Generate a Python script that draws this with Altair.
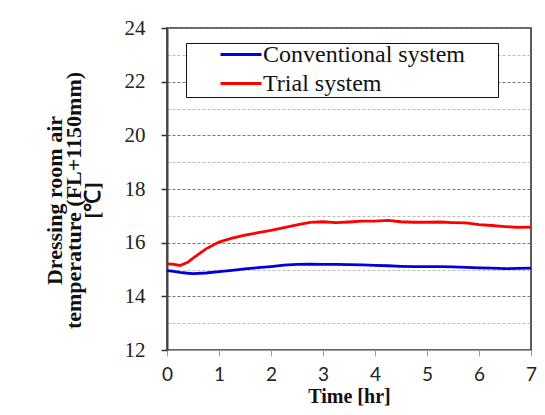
import altair as alt
import pandas as pd

# ---- data ----
time_hr = [0, 0.1, 0.25, 0.4, 0.5, 0.75, 1.0, 1.25, 1.5, 1.75, 2.0, 2.25, 2.5, 2.75,
           3.0, 3.25, 3.5, 3.75, 4.0, 4.25, 4.5, 4.75, 5.0, 5.25, 5.5, 5.75, 6.0,
           6.25, 6.5, 6.75, 7.0]
conventional = [14.96, 14.94, 14.89, 14.86, 14.85, 14.87, 14.92, 14.97, 15.02, 15.07,
                15.11, 15.16, 15.19, 15.20, 15.19, 15.19, 15.18, 15.17, 15.15, 15.14,
                15.12, 15.11, 15.11, 15.11, 15.10, 15.08, 15.06, 15.05, 15.03, 15.04,
                15.05]
trial = [15.21, 15.20, 15.15, 15.27, 15.42, 15.77, 16.02, 16.17, 16.28, 16.37,
         16.46, 16.56, 16.66, 16.76, 16.78, 16.75, 16.77, 16.80, 16.80, 16.83,
         16.78, 16.76, 16.76, 16.77, 16.75, 16.74, 16.67, 16.64, 16.60, 16.57,
         16.58]
series_names = ["Conventional system", "Trial system"]
series_colors = ["#0000dd", "#ff0000"]
x_ticks = [0, 1, 2, 3, 4, 5, 6, 7]
y_grid = list(range(12, 25))
y_title = ["Dressing room  air", "temperature (FL+1150mm)", "[\u2103]"]
x_title = "Time [hr]"

n = len(time_hr)
df = pd.DataFrame({
    "time": time_hr * 2,
    "temp": conventional + trial,
    "system": [series_names[0]] * n + [series_names[1]] * n,
})

serif = "Times New Roman, Liberation Serif, serif"
even = "datum.value % 2 == 0"

chart = alt.Chart(df).mark_line(strokeWidth=2.8).encode(
    x=alt.X("time:Q",
            scale=alt.Scale(domain=[0, 7], nice=False),
            axis=alt.Axis(values=x_ticks, title=x_title, grid=False,
                          domainColor="#999999", tickColor="#999999", tickSize=6,
                          labelFont="Lato", labelFontSize=19, labelColor="#222222",
                          labelPadding=9, labelFlush=False,
                          titleFont=serif, titleFontSize=20, titleFontWeight="bold",
                          titleColor="#111111", titleBaseline="alphabetic",
                          titleAlign="center", titleX=182, titleY=52)),
    y=alt.Y("temp:Q",
            scale=alt.Scale(domain=[12, 24], nice=False, zero=False),
            axis=alt.Axis(values=y_grid, title=y_title, grid=True,
                          gridColor=alt.condition(even, alt.value("#777777"), alt.value("#bbbbbb")),
                          gridDash=[3, 2], gridWidth=1,
                          domainColor="#444444", domainWidth=2,
                          tickColor="#333333", tickSize=6, tickWidth=1.5,
                          tickOpacity=alt.condition(even, alt.value(1), alt.value(0)),
                          labelExpr="datum.value % 2 == 0 ? datum.label : ''",
                          labelFont=serif, labelFontSize=21, labelColor="#222222",
                          labelPadding=16,
                          titleFont=serif, titleFontSize=22, titleFontWeight="bold",
                          titleColor="#111111", titleLineHeight=19, titleAngle=270,
                          titleBaseline="middle", titleAlign="center",
                          titleX=-113, titleY=172)),
    color=alt.Color("system:N",
                    scale=alt.Scale(domain=series_names, range=series_colors),
                    legend=alt.Legend(orient="none", legendX=19, legendY=15, title=None,
                                      symbolType="stroke", symbolSize=1681,
                                      symbolStrokeWidth=3, symbolOffset=32,
                                      labelOffset=0, labelFont=serif, labelFontSize=24,
                                      labelColor="#111111", labelLimit=400,
                                      labelExpr="datum.label + '\u2003\u2006\u2006\u200b'",
                                      clipHeight=21, rowPadding=4, padding=1,
                                      fillColor="white", strokeColor="#111111")),
).properties(
    width=364, height=322,
    autosize=alt.AutoSizeParams(type="none"),
    padding={"left": 159, "top": 20, "right": 6, "bottom": 57},
).configure_view(stroke="#333333", strokeWidth=1.6)

chart.save("out.html", embed_options={"renderer": "svg", "actions": False})
